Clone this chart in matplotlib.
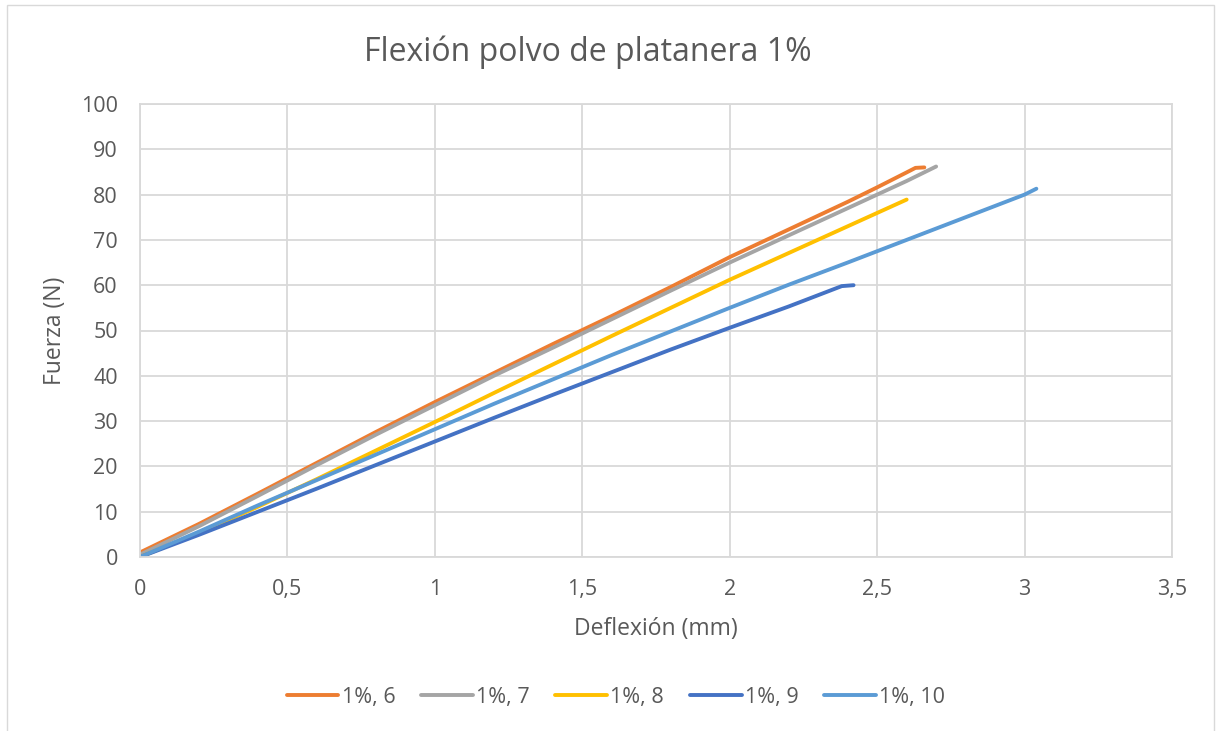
import matplotlib
matplotlib.use('Agg')
import matplotlib.pyplot as plt
from matplotlib.patches import Rectangle

# deflexion (mm) / fuerza (N)
x6 = [0, 0.2, 0.4, 0.6, 0.8, 1.0, 1.2, 1.4, 1.6, 1.8, 2.0, 2.2, 2.4, 2.5, 2.6, 2.63, 2.66]
y6 = [1.0, 7.3, 14.0, 20.8, 27.6, 34.2, 40.6, 47.0, 53.2, 59.6, 66.2, 72.3, 78.4, 81.6, 84.9, 85.9, 86.0]

x7 = [0, 0.2, 0.4, 0.6, 0.8, 1.0, 1.2, 1.4, 1.6, 1.8, 2.0, 2.2, 2.4, 2.5, 2.6, 2.7]
y7 = [0.5, 6.8, 13.5, 20.3, 27.0, 33.5, 40.0, 46.2, 52.5, 58.8, 65.0, 71.0, 77.0, 80.0, 83.0, 86.2]

x8 = [0, 0.2, 0.4, 0.6, 0.8, 1.0, 1.2, 1.4, 1.6, 1.8, 2.0, 2.2, 2.4, 2.6]
y8 = [0.0, 5.3, 11.1, 17.2, 23.5, 29.8, 36.2, 42.5, 48.8, 55.0, 61.2, 67.1, 73.0, 78.9]

x9 = [0, 0.2, 0.4, 0.6, 0.8, 1.0, 1.2, 1.4, 1.6, 1.8, 2.0, 2.2, 2.38, 2.42]
y9 = [0.0, 4.9, 10.0, 15.1, 20.3, 25.5, 30.7, 35.8, 40.8, 45.8, 50.6, 55.3, 59.8, 60.0]

x10 = [0, 0.2, 0.4, 0.6, 0.8, 1.0, 1.2, 1.4, 1.6, 1.8, 2.0, 2.2, 2.4, 2.6, 2.8, 3.0, 3.04]
y10 = [0.0, 5.6, 11.4, 17.0, 22.6, 28.2, 33.8, 39.2, 44.6, 49.8, 55.0, 60.1, 65.0, 70.0, 75.0, 80.0, 81.3]

series = [
    ('1%, 6', x6, y6, '#ED7D31'),
    ('1%, 7', x7, y7, '#A5A5A5'),
    ('1%, 8', x8, y8, '#FFC000'),
    ('1%, 9', x9, y9, '#4472C4'),
    ('1%, 10', x10, y10, '#5B9BD5'),
]

plt.rcParams['font.family'] = ['Open Sans', 'DejaVu Sans']
txt = '#595959'
grid = '#D9D9D9'

fig = plt.figure(figsize=(12.18, 7.31), dpi=100)
fig.patches.append(Rectangle((7 / 1218, -0.01), 1207 / 1218, 1 - 5 / 731 + 0.01,
                             transform=fig.transFigure, fill=False,
                             edgecolor=grid, linewidth=1))
ax = fig.add_axes([140 / 1218, 1 - 557 / 731, 1032 / 1218, 453 / 731])

for nombre, xs, ys, c in series:
    ax.plot(xs, ys, color=c, lw=2.8, label=nombre, solid_capstyle='round')

ax.set_xlim(0, 3.5)
ax.set_ylim(0, 100)
ax.set_xticks([0, 0.5, 1, 1.5, 2, 2.5, 3, 3.5])
ax.set_xticklabels(['0', '0,5', '1', '1,5', '2', '2,5', '3', '3,5'])
ax.set_yticks(range(0, 101, 10))
ax.grid(True, color=grid, lw=1.3)
ax.set_axisbelow(True)
for s in ax.spines.values():
    s.set_color(grid)
    s.set_linewidth(1.3)
ax.tick_params(axis='y', length=0, colors=txt, labelsize=15.5, pad=16)
ax.tick_params(axis='x', length=0, colors=txt, labelsize=15.5, pad=16)

fig.text(588 / 1218, 1 - 52 / 731, 'Flexión polvo de platanera 1%', fontsize=23,
         color=txt, ha='center', va='center')
ax.set_xlabel('Deflexión (mm)', fontsize=16.5, color=txt, labelpad=12)
ax.set_ylabel('Fuerza (N)', fontsize=16.5, color=txt, labelpad=10)

fig.legend(loc='center', bbox_to_anchor=(616 / 1218, 1 - 697 / 731), ncol=5,
           frameon=False, fontsize=15.5, labelcolor=txt, handlelength=2.4,
           handletextpad=0.15, columnspacing=1.2)

fig.savefig('out.png', dpi=100)
